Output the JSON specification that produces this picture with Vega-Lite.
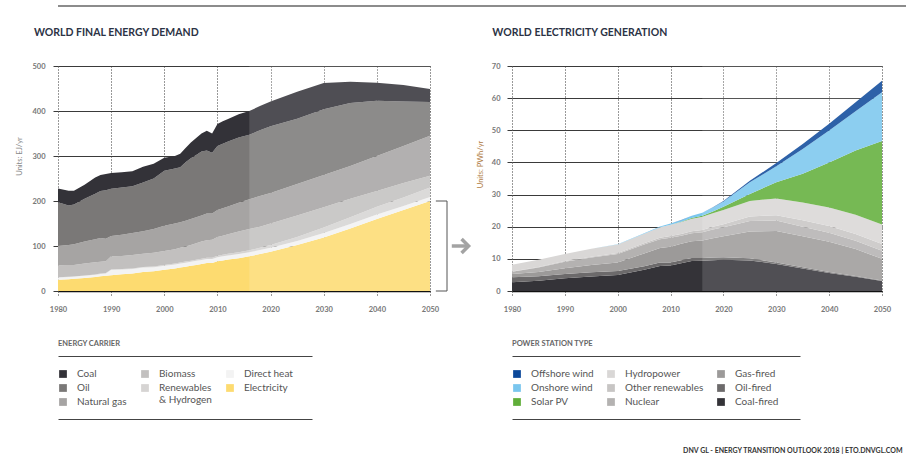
{
"$schema":"https://vega.github.io/schema/vega-lite/v6.json",
"background":"white",
"padding":{"left":15,"top":5,"right":0,"bottom":0},
"config":{"font":"Lato","view":{"stroke":null},"axis":{"labelFont":"Lato","titleFont":"Lato","zindex":1},"legend":{"labelFont":"Lato"},"title":{"font":"Lato"}},
"datasets":{
"energy":[
{"year":1980,"carrier":"Electricity","ej":25},{"year":1980,"carrier":"Direct heat","ej":5},{"year":1980,"carrier":"Renewables & Hydrogen","ej":0.5},{"year":1980,"carrier":"Biomass","ej":26.5},{"year":1980,"carrier":"Natural gas","ej":43},{"year":1980,"carrier":"Oil","ej":97},{"year":1980,"carrier":"Coal","ej":31},
{"year":1982,"carrier":"Electricity","ej":26},{"year":1982,"carrier":"Direct heat","ej":5},{"year":1982,"carrier":"Renewables & Hydrogen","ej":0.5},{"year":1982,"carrier":"Biomass","ej":26.5},{"year":1982,"carrier":"Natural gas","ej":44},{"year":1982,"carrier":"Oil","ej":88},{"year":1982,"carrier":"Coal","ej":33},
{"year":1983,"carrier":"Electricity","ej":27},{"year":1983,"carrier":"Direct heat","ej":5},{"year":1983,"carrier":"Renewables & Hydrogen","ej":0.5},{"year":1983,"carrier":"Biomass","ej":25.5},{"year":1983,"carrier":"Natural gas","ej":46},{"year":1983,"carrier":"Oil","ej":88},{"year":1983,"carrier":"Coal","ej":31},
{"year":1985,"carrier":"Electricity","ej":29},{"year":1985,"carrier":"Direct heat","ej":5},{"year":1985,"carrier":"Renewables & Hydrogen","ej":0.6},{"year":1985,"carrier":"Biomass","ej":26.4},{"year":1985,"carrier":"Natural gas","ej":49},{"year":1985,"carrier":"Oil","ej":95},{"year":1985,"carrier":"Coal","ej":31},
{"year":1987,"carrier":"Electricity","ej":31},{"year":1987,"carrier":"Direct heat","ej":5},{"year":1987,"carrier":"Renewables & Hydrogen","ej":0.7},{"year":1987,"carrier":"Biomass","ej":27.3},{"year":1987,"carrier":"Natural gas","ej":51},{"year":1987,"carrier":"Oil","ej":101},{"year":1987,"carrier":"Coal","ej":36},
{"year":1988,"carrier":"Electricity","ej":33},{"year":1988,"carrier":"Direct heat","ej":5},{"year":1988,"carrier":"Renewables & Hydrogen","ej":0.8},{"year":1988,"carrier":"Biomass","ej":26.2},{"year":1988,"carrier":"Natural gas","ej":53},{"year":1988,"carrier":"Oil","ej":104},{"year":1988,"carrier":"Coal","ej":36},
{"year":1989,"carrier":"Electricity","ej":34},{"year":1989,"carrier":"Direct heat","ej":5},{"year":1989,"carrier":"Renewables & Hydrogen","ej":0.8},{"year":1989,"carrier":"Biomass","ej":26.2},{"year":1989,"carrier":"Natural gas","ej":50},{"year":1989,"carrier":"Oil","ej":108},{"year":1989,"carrier":"Coal","ej":36},
{"year":1990,"carrier":"Electricity","ej":35},{"year":1990,"carrier":"Direct heat","ej":12},{"year":1990,"carrier":"Renewables & Hydrogen","ej":1},{"year":1990,"carrier":"Biomass","ej":29},{"year":1990,"carrier":"Natural gas","ej":45},{"year":1990,"carrier":"Oil","ej":105},{"year":1990,"carrier":"Coal","ej":35},
{"year":1992,"carrier":"Electricity","ej":37},{"year":1992,"carrier":"Direct heat","ej":11},{"year":1992,"carrier":"Renewables & Hydrogen","ej":1},{"year":1992,"carrier":"Biomass","ej":29},{"year":1992,"carrier":"Natural gas","ej":47},{"year":1992,"carrier":"Oil","ej":105},{"year":1992,"carrier":"Coal","ej":34},
{"year":1994,"carrier":"Electricity","ej":39},{"year":1994,"carrier":"Direct heat","ej":10},{"year":1994,"carrier":"Renewables & Hydrogen","ej":1.2},{"year":1994,"carrier":"Biomass","ej":29.8},{"year":1994,"carrier":"Natural gas","ej":49},{"year":1994,"carrier":"Oil","ej":104},{"year":1994,"carrier":"Coal","ej":33},
{"year":1996,"carrier":"Electricity","ej":42},{"year":1996,"carrier":"Direct heat","ej":10},{"year":1996,"carrier":"Renewables & Hydrogen","ej":1.4},{"year":1996,"carrier":"Biomass","ej":29.6},{"year":1996,"carrier":"Natural gas","ej":50},{"year":1996,"carrier":"Oil","ej":108},{"year":1996,"carrier":"Coal","ej":35},
{"year":1998,"carrier":"Electricity","ej":44},{"year":1998,"carrier":"Direct heat","ej":9},{"year":1998,"carrier":"Renewables & Hydrogen","ej":1.6},{"year":1998,"carrier":"Biomass","ej":30.4},{"year":1998,"carrier":"Natural gas","ej":53},{"year":1998,"carrier":"Oil","ej":112},{"year":1998,"carrier":"Coal","ej":33},
{"year":2000,"carrier":"Electricity","ej":47},{"year":2000,"carrier":"Direct heat","ej":9},{"year":2000,"carrier":"Renewables & Hydrogen","ej":2},{"year":2000,"carrier":"Biomass","ej":31},{"year":2000,"carrier":"Natural gas","ej":56},{"year":2000,"carrier":"Oil","ej":122},{"year":2000,"carrier":"Coal","ej":29},
{"year":2002,"carrier":"Electricity","ej":50},{"year":2002,"carrier":"Direct heat","ej":9},{"year":2002,"carrier":"Renewables & Hydrogen","ej":2.2},{"year":2002,"carrier":"Biomass","ej":31.8},{"year":2002,"carrier":"Natural gas","ej":57},{"year":2002,"carrier":"Oil","ej":122},{"year":2002,"carrier":"Coal","ej":28},
{"year":2003,"carrier":"Electricity","ej":52},{"year":2003,"carrier":"Direct heat","ej":9},{"year":2003,"carrier":"Renewables & Hydrogen","ej":2.3},{"year":2003,"carrier":"Biomass","ej":32.7},{"year":2003,"carrier":"Natural gas","ej":57},{"year":2003,"carrier":"Oil","ej":122},{"year":2003,"carrier":"Coal","ej":30},
{"year":2004,"carrier":"Electricity","ej":54},{"year":2004,"carrier":"Direct heat","ej":9},{"year":2004,"carrier":"Renewables & Hydrogen","ej":2.4},{"year":2004,"carrier":"Biomass","ej":33.6},{"year":2004,"carrier":"Natural gas","ej":57},{"year":2004,"carrier":"Oil","ej":130},{"year":2004,"carrier":"Coal","ej":32},
{"year":2005,"carrier":"Electricity","ej":56},{"year":2005,"carrier":"Direct heat","ej":9},{"year":2005,"carrier":"Renewables & Hydrogen","ej":2.5},{"year":2005,"carrier":"Biomass","ej":34.5},{"year":2005,"carrier":"Natural gas","ej":58},{"year":2005,"carrier":"Oil","ej":135},{"year":2005,"carrier":"Coal","ej":35},
{"year":2006,"carrier":"Electricity","ej":58},{"year":2006,"carrier":"Direct heat","ej":9},{"year":2006,"carrier":"Renewables & Hydrogen","ej":2.7},{"year":2006,"carrier":"Biomass","ej":36.3},{"year":2006,"carrier":"Natural gas","ej":58},{"year":2006,"carrier":"Oil","ej":138},{"year":2006,"carrier":"Coal","ej":38},
{"year":2007,"carrier":"Electricity","ej":60},{"year":2007,"carrier":"Direct heat","ej":9},{"year":2007,"carrier":"Renewables & Hydrogen","ej":2.9},{"year":2007,"carrier":"Biomass","ej":38.1},{"year":2007,"carrier":"Natural gas","ej":58},{"year":2007,"carrier":"Oil","ej":142},{"year":2007,"carrier":"Coal","ej":40},
{"year":2008,"carrier":"Electricity","ej":62},{"year":2008,"carrier":"Direct heat","ej":9},{"year":2008,"carrier":"Renewables & Hydrogen","ej":3},{"year":2008,"carrier":"Biomass","ej":39},{"year":2008,"carrier":"Natural gas","ej":59},{"year":2008,"carrier":"Oil","ej":140},{"year":2008,"carrier":"Coal","ej":44},
{"year":2009,"carrier":"Electricity","ej":62},{"year":2009,"carrier":"Direct heat","ej":9},{"year":2009,"carrier":"Renewables & Hydrogen","ej":3.1},{"year":2009,"carrier":"Biomass","ej":39.9},{"year":2009,"carrier":"Natural gas","ej":58},{"year":2009,"carrier":"Oil","ej":135},{"year":2009,"carrier":"Coal","ej":43},
{"year":2010,"carrier":"Electricity","ej":66},{"year":2010,"carrier":"Direct heat","ej":9},{"year":2010,"carrier":"Renewables & Hydrogen","ej":3.3},{"year":2010,"carrier":"Biomass","ej":41.7},{"year":2010,"carrier":"Natural gas","ej":60},{"year":2010,"carrier":"Oil","ej":142},{"year":2010,"carrier":"Coal","ej":49},
{"year":2011,"carrier":"Electricity","ej":68},{"year":2011,"carrier":"Direct heat","ej":9},{"year":2011,"carrier":"Renewables & Hydrogen","ej":3.5},{"year":2011,"carrier":"Biomass","ej":42.5},{"year":2011,"carrier":"Natural gas","ej":61},{"year":2011,"carrier":"Oil","ej":143},{"year":2011,"carrier":"Coal","ej":50},
{"year":2012,"carrier":"Electricity","ej":70},{"year":2012,"carrier":"Direct heat","ej":9},{"year":2012,"carrier":"Renewables & Hydrogen","ej":3.7},{"year":2012,"carrier":"Biomass","ej":43.3},{"year":2012,"carrier":"Natural gas","ej":62},{"year":2012,"carrier":"Oil","ej":144},{"year":2012,"carrier":"Coal","ej":50},
{"year":2014,"carrier":"Electricity","ej":73},{"year":2014,"carrier":"Direct heat","ej":9},{"year":2014,"carrier":"Renewables & Hydrogen","ej":4},{"year":2014,"carrier":"Biomass","ej":46},{"year":2014,"carrier":"Natural gas","ej":64},{"year":2014,"carrier":"Oil","ej":145},{"year":2014,"carrier":"Coal","ej":52},
{"year":2016,"carrier":"Electricity","ej":77},{"year":2016,"carrier":"Direct heat","ej":9},{"year":2016,"carrier":"Renewables & Hydrogen","ej":4.5},{"year":2016,"carrier":"Biomass","ej":47.5},{"year":2016,"carrier":"Natural gas","ej":66},{"year":2016,"carrier":"Oil","ej":143},{"year":2016,"carrier":"Coal","ej":53},
{"year":2018,"carrier":"Electricity","ej":82},{"year":2018,"carrier":"Direct heat","ej":9},{"year":2018,"carrier":"Renewables & Hydrogen","ej":5},{"year":2018,"carrier":"Biomass","ej":47},{"year":2018,"carrier":"Natural gas","ej":68},{"year":2018,"carrier":"Oil","ej":146},{"year":2018,"carrier":"Coal","ej":54},
{"year":2020,"carrier":"Electricity","ej":87},{"year":2020,"carrier":"Direct heat","ej":9},{"year":2020,"carrier":"Renewables & Hydrogen","ej":6},{"year":2020,"carrier":"Biomass","ej":48},{"year":2020,"carrier":"Natural gas","ej":68},{"year":2020,"carrier":"Oil","ej":148},{"year":2020,"carrier":"Coal","ej":55},
{"year":2025,"carrier":"Electricity","ej":102},{"year":2025,"carrier":"Direct heat","ej":9},{"year":2025,"carrier":"Renewables & Hydrogen","ej":9},{"year":2025,"carrier":"Biomass","ej":48},{"year":2025,"carrier":"Natural gas","ej":70},{"year":2025,"carrier":"Oil","ej":145},{"year":2025,"carrier":"Coal","ej":60},
{"year":2030,"carrier":"Electricity","ej":119},{"year":2030,"carrier":"Direct heat","ej":10},{"year":2030,"carrier":"Renewables & Hydrogen","ej":12},{"year":2030,"carrier":"Biomass","ej":45},{"year":2030,"carrier":"Natural gas","ej":72},{"year":2030,"carrier":"Oil","ej":146},{"year":2030,"carrier":"Coal","ej":58},
{"year":2035,"carrier":"Electricity","ej":139},{"year":2035,"carrier":"Direct heat","ej":10},{"year":2035,"carrier":"Renewables & Hydrogen","ej":15},{"year":2035,"carrier":"Biomass","ej":41},{"year":2035,"carrier":"Natural gas","ej":73},{"year":2035,"carrier":"Oil","ej":140},{"year":2035,"carrier":"Coal","ej":47},
{"year":2040,"carrier":"Electricity","ej":160},{"year":2040,"carrier":"Direct heat","ej":10},{"year":2040,"carrier":"Renewables & Hydrogen","ej":17},{"year":2040,"carrier":"Biomass","ej":35},{"year":2040,"carrier":"Natural gas","ej":78},{"year":2040,"carrier":"Oil","ej":123},{"year":2040,"carrier":"Coal","ej":40},
{"year":2045,"carrier":"Electricity","ej":180},{"year":2045,"carrier":"Direct heat","ej":9},{"year":2045,"carrier":"Renewables & Hydrogen","ej":19},{"year":2045,"carrier":"Biomass","ej":32},{"year":2045,"carrier":"Natural gas","ej":82},{"year":2045,"carrier":"Oil","ej":99},{"year":2045,"carrier":"Coal","ej":37},
{"year":2050,"carrier":"Electricity","ej":200},{"year":2050,"carrier":"Direct heat","ej":9},{"year":2050,"carrier":"Renewables & Hydrogen","ej":21},{"year":2050,"carrier":"Biomass","ej":26},{"year":2050,"carrier":"Natural gas","ej":89},{"year":2050,"carrier":"Oil","ej":75},{"year":2050,"carrier":"Coal","ej":29}
],
"power":[
{"year":1980,"type":"Coal-fired","pwh":2.7},{"year":1980,"type":"Oil-fired","pwh":1.6},{"year":1980,"type":"Gas-fired","pwh":1.0},{"year":1980,"type":"Nuclear","pwh":0.7},{"year":1980,"type":"Other renewables","pwh":0.1},{"year":1980,"type":"Hydropower","pwh":2.1},{"year":1980,"type":"Solar PV","pwh":0},{"year":1980,"type":"Onshore wind","pwh":0},{"year":1980,"type":"Offshore wind","pwh":0},
{"year":1985,"type":"Coal-fired","pwh":3.2},{"year":1985,"type":"Oil-fired","pwh":1.4},{"year":1985,"type":"Gas-fired","pwh":1.3},{"year":1985,"type":"Nuclear","pwh":1.4},{"year":1985,"type":"Other renewables","pwh":0.15},{"year":1985,"type":"Hydropower","pwh":2.3},{"year":1985,"type":"Solar PV","pwh":0},{"year":1985,"type":"Onshore wind","pwh":0},{"year":1985,"type":"Offshore wind","pwh":0},
{"year":1990,"type":"Coal-fired","pwh":4.0},{"year":1990,"type":"Oil-fired","pwh":1.3},{"year":1990,"type":"Gas-fired","pwh":1.8},{"year":1990,"type":"Nuclear","pwh":2.0},{"year":1990,"type":"Other renewables","pwh":0.2},{"year":1990,"type":"Hydropower","pwh":2.2},{"year":1990,"type":"Solar PV","pwh":0},{"year":1990,"type":"Onshore wind","pwh":0.004},{"year":1990,"type":"Offshore wind","pwh":0},
{"year":1995,"type":"Coal-fired","pwh":4.5},{"year":1995,"type":"Oil-fired","pwh":1.3},{"year":1995,"type":"Gas-fired","pwh":2.3},{"year":1995,"type":"Nuclear","pwh":2.3},{"year":1995,"type":"Other renewables","pwh":0.25},{"year":1995,"type":"Hydropower","pwh":2.5},{"year":1995,"type":"Solar PV","pwh":0},{"year":1995,"type":"Onshore wind","pwh":0.01},{"year":1995,"type":"Offshore wind","pwh":0},
{"year":2000,"type":"Coal-fired","pwh":5.0},{"year":2000,"type":"Oil-fired","pwh":1.2},{"year":2000,"type":"Gas-fired","pwh":2.7},{"year":2000,"type":"Nuclear","pwh":2.6},{"year":2000,"type":"Other renewables","pwh":0.3},{"year":2000,"type":"Hydropower","pwh":2.7},{"year":2000,"type":"Solar PV","pwh":0},{"year":2000,"type":"Onshore wind","pwh":0.03},{"year":2000,"type":"Offshore wind","pwh":0},
{"year":2005,"type":"Coal-fired","pwh":6.6},{"year":2005,"type":"Oil-fired","pwh":1.1},{"year":2005,"type":"Gas-fired","pwh":4.0},{"year":2005,"type":"Nuclear","pwh":2.8},{"year":2005,"type":"Other renewables","pwh":0.35},{"year":2005,"type":"Hydropower","pwh":3.0},{"year":2005,"type":"Solar PV","pwh":0},{"year":2005,"type":"Onshore wind","pwh":0.1},{"year":2005,"type":"Offshore wind","pwh":0},
{"year":2008,"type":"Coal-fired","pwh":7.8},{"year":2008,"type":"Oil-fired","pwh":1.1},{"year":2008,"type":"Gas-fired","pwh":4.5},{"year":2008,"type":"Nuclear","pwh":2.7},{"year":2008,"type":"Other renewables","pwh":0.45},{"year":2008,"type":"Hydropower","pwh":3.3},{"year":2008,"type":"Solar PV","pwh":0.01},{"year":2008,"type":"Onshore wind","pwh":0.2},{"year":2008,"type":"Offshore wind","pwh":0.003},
{"year":2010,"type":"Coal-fired","pwh":7.9},{"year":2010,"type":"Oil-fired","pwh":1.0},{"year":2010,"type":"Gas-fired","pwh":4.9},{"year":2010,"type":"Nuclear","pwh":2.8},{"year":2010,"type":"Other renewables","pwh":0.5},{"year":2010,"type":"Hydropower","pwh":3.5},{"year":2010,"type":"Solar PV","pwh":0.03},{"year":2010,"type":"Onshore wind","pwh":0.34},{"year":2010,"type":"Offshore wind","pwh":0.01},
{"year":2012,"type":"Coal-fired","pwh":8.6},{"year":2012,"type":"Oil-fired","pwh":1.0},{"year":2012,"type":"Gas-fired","pwh":5.1},{"year":2012,"type":"Nuclear","pwh":2.5},{"year":2012,"type":"Other renewables","pwh":0.55},{"year":2012,"type":"Hydropower","pwh":3.7},{"year":2012,"type":"Solar PV","pwh":0.1},{"year":2012,"type":"Onshore wind","pwh":0.5},{"year":2012,"type":"Offshore wind","pwh":0.02},
{"year":2014,"type":"Coal-fired","pwh":9.3},{"year":2014,"type":"Oil-fired","pwh":0.95},{"year":2014,"type":"Gas-fired","pwh":5.2},{"year":2014,"type":"Nuclear","pwh":2.5},{"year":2014,"type":"Other renewables","pwh":0.65},{"year":2014,"type":"Hydropower","pwh":3.9},{"year":2014,"type":"Solar PV","pwh":0.2},{"year":2014,"type":"Onshore wind","pwh":0.7},{"year":2014,"type":"Offshore wind","pwh":0.03},
{"year":2016,"type":"Coal-fired","pwh":9.4},{"year":2016,"type":"Oil-fired","pwh":0.9},{"year":2016,"type":"Gas-fired","pwh":5.4},{"year":2016,"type":"Nuclear","pwh":2.6},{"year":2016,"type":"Other renewables","pwh":0.7},{"year":2016,"type":"Hydropower","pwh":4.1},{"year":2016,"type":"Solar PV","pwh":0.3},{"year":2016,"type":"Onshore wind","pwh":0.93},{"year":2016,"type":"Offshore wind","pwh":0.05},
{"year":2018,"type":"Coal-fired","pwh":9.6},{"year":2018,"type":"Oil-fired","pwh":0.85},{"year":2018,"type":"Gas-fired","pwh":6.0},{"year":2018,"type":"Nuclear","pwh":2.7},{"year":2018,"type":"Other renewables","pwh":0.85},{"year":2018,"type":"Hydropower","pwh":4.2},{"year":2018,"type":"Solar PV","pwh":0.55},{"year":2018,"type":"Onshore wind","pwh":1.2},{"year":2018,"type":"Offshore wind","pwh":0.08},
{"year":2020,"type":"Coal-fired","pwh":9.7},{"year":2020,"type":"Oil-fired","pwh":0.8},{"year":2020,"type":"Gas-fired","pwh":6.5},{"year":2020,"type":"Nuclear","pwh":2.8},{"year":2020,"type":"Other renewables","pwh":1.0},{"year":2020,"type":"Hydropower","pwh":4.4},{"year":2020,"type":"Solar PV","pwh":1.0},{"year":2020,"type":"Onshore wind","pwh":1.65},{"year":2020,"type":"Offshore wind","pwh":0.15},
{"year":2025,"type":"Coal-fired","pwh":9.5},{"year":2025,"type":"Oil-fired","pwh":0.7},{"year":2025,"type":"Gas-fired","pwh":8.3},{"year":2025,"type":"Nuclear","pwh":3.3},{"year":2025,"type":"Other renewables","pwh":1.4},{"year":2025,"type":"Hydropower","pwh":4.8},{"year":2025,"type":"Solar PV","pwh":2.2},{"year":2025,"type":"Onshore wind","pwh":3.6},{"year":2025,"type":"Offshore wind","pwh":0.5},
{"year":2030,"type":"Coal-fired","pwh":8.4},{"year":2030,"type":"Oil-fired","pwh":0.5},{"year":2030,"type":"Gas-fired","pwh":9.8},{"year":2030,"type":"Nuclear","pwh":3.2},{"year":2030,"type":"Other renewables","pwh":1.7},{"year":2030,"type":"Hydropower","pwh":5.2},{"year":2030,"type":"Solar PV","pwh":5.0},{"year":2030,"type":"Onshore wind","pwh":5.0},{"year":2030,"type":"Offshore wind","pwh":1.0},
{"year":2035,"type":"Coal-fired","pwh":7.0},{"year":2035,"type":"Oil-fired","pwh":0.4},{"year":2035,"type":"Gas-fired","pwh":9.6},{"year":2035,"type":"Nuclear","pwh":3.0},{"year":2035,"type":"Other renewables","pwh":2.0},{"year":2035,"type":"Hydropower","pwh":5.5},{"year":2035,"type":"Solar PV","pwh":9.0},{"year":2035,"type":"Onshore wind","pwh":7.7},{"year":2035,"type":"Offshore wind","pwh":1.5},
{"year":2040,"type":"Coal-fired","pwh":5.6},{"year":2040,"type":"Oil-fired","pwh":0.3},{"year":2040,"type":"Gas-fired","pwh":9.4},{"year":2040,"type":"Nuclear","pwh":2.8},{"year":2040,"type":"Other renewables","pwh":2.1},{"year":2040,"type":"Hydropower","pwh":5.8},{"year":2040,"type":"Solar PV","pwh":14.0},{"year":2040,"type":"Onshore wind","pwh":9.9},{"year":2040,"type":"Offshore wind","pwh":2.1},
{"year":2045,"type":"Coal-fired","pwh":4.4},{"year":2045,"type":"Oil-fired","pwh":0.25},{"year":2045,"type":"Gas-fired","pwh":8.4},{"year":2045,"type":"Nuclear","pwh":2.6},{"year":2045,"type":"Other renewables","pwh":2.1},{"year":2045,"type":"Hydropower","pwh":6.0},{"year":2045,"type":"Solar PV","pwh":20.0},{"year":2045,"type":"Onshore wind","pwh":12.15},{"year":2045,"type":"Offshore wind","pwh":2.8},
{"year":2050,"type":"Coal-fired","pwh":3.1},{"year":2050,"type":"Oil-fired","pwh":0.2},{"year":2050,"type":"Gas-fired","pwh":6.7},{"year":2050,"type":"Nuclear","pwh":2.5},{"year":2050,"type":"Other renewables","pwh":2.1},{"year":2050,"type":"Hydropower","pwh":6.1},{"year":2050,"type":"Solar PV","pwh":26.0},{"year":2050,"type":"Onshore wind","pwh":15.1},{"year":2050,"type":"Offshore wind","pwh":3.6}
]
},
"title":{"text":"DNV GL - ENERGY TRANSITION OUTLOOK 2018    |    ETO.DNVGL.COM","orient":"bottom","anchor":"end","fontSize":7,"fontWeight":"bold","color":"#333","offset":27,"dx":-8},
"columns":1,
"align":"none",
"spacing":20,
"resolve":{"scale":{"color":"independent"},"legend":{"color":"independent"}},
"concat":[
{
"width":852,"height":1,
"data":{"values":[{}]},
"mark":{"type":"rule","color":"#1a1a1a","strokeWidth":1.2},
"encoding":{"y":{"datum":1,"type":"quantitative","scale":{"domain":[0,1]},"axis":{"title":"\u00a0","titleFontSize":10,"titlePadding":9,"labels":false,"ticks":false,"domain":false,"grid":false}}}
},
{
"hconcat":[
{
"vconcat":[
{
"width":372,"height":225,
"title":{"text":"WORLD FINAL ENERGY DEMAND","anchor":"start","dx":18,"offset":24,"fontSize":10.5,"fontWeight":"bold","color":"#2c3345"},
"resolve":{"axis":{"x":"independent","y":"independent"}},
"layer":[
{
"data":{"name":"energy"},
"transform":[{"calculate":"indexof(['Electricity','Direct heat','Renewables & Hydrogen','Biomass','Natural gas','Oil','Coal'], datum.carrier)","as":"stackorder"}],
"mark":{"type":"area","interpolate":"linear"},
"encoding":{
"x":{"field":"year","type":"quantitative","scale":{"domain":[1980,2050],"nice":false,"zero":false},
"axis":{"values":[1980,1990,2000,2010,2020,2030,2040,2050],"format":"d","title":null,"grid":true,"gridDash":[1,2],"gridColor":"#333","gridWidth":1,"domain":true,"domainColor":"#111","domainWidth":1.5,"ticks":true,"tickSize":4,"tickDash":[1,2],"tickColor":"#333","labelPadding":10,"labelFlush":false,"labelFontSize":7.5,"labelFontWeight":"bold","labelColor":"#777"}},
"y":{"field":"ej","type":"quantitative","stack":"zero","scale":{"domain":[0,500],"nice":false},
"axis":{"values":[0,100,200,300,400,500],"title":"Units: EJ/yr","titleFontSize":7.5,"titleColor":"#888","titleFontWeight":"normal","titlePadding":8,"titleY":90,"grid":true,"gridColor":"#3a3a3a","gridWidth":1,"domain":false,"ticks":true,"tickSize":5,"tickColor":"#3a3a3a","labelPadding":8,"labelFontSize":7.5,"labelFontWeight":"bold","labelColor":"#777"}},
"color":{"field":"carrier","type":"nominal","scale":{"domain":["Coal","Oil","Natural gas","Biomass","Renewables & Hydrogen","Direct heat","Electricity"],"range":["#333238","#7a7877","#a6a4a3","#c2c0bf","#d6d4d3","#f3f3f3","#fddb70"]},"legend":null},
"order":{"field":"stackorder","type":"quantitative"}
}
},
{"data":{"values":[{}]},"mark":{"type":"rect","fill":"white","opacity":0.14},"encoding":{"x":{"datum":2016,"axis":null},"x2":{"datum":2050},"y":{"datum":0,"axis":null},"y2":{"datum":500}}},
{"data":{"values":[{}]},"mark":{"type":"rule","color":"#555","strokeWidth":1},"encoding":{"x":{"datum":2051.1,"axis":null},"x2":{"datum":2053.2},"y":{"datum":200,"axis":null}}},
{"data":{"values":[{}]},"mark":{"type":"rule","color":"#555","strokeWidth":1},"encoding":{"x":{"datum":2051.1,"axis":null},"x2":{"datum":2053.2},"y":{"datum":0,"axis":null}}},
{"data":{"values":[{}]},"mark":{"type":"rule","color":"#555","strokeWidth":1},"encoding":{"x":{"datum":2053.2,"axis":null},"y":{"datum":0,"axis":null},"y2":{"datum":200}}},
{"data":{"values":[{}]},"mark":{"type":"rule","color":"#a3a3a3","strokeWidth":3.5},"encoding":{"x":{"datum":2054.1,"axis":null},"x2":{"datum":2057.3},"y":{"datum":100,"axis":null}}},
{"data":{"values":[{}]},"mark":{"type":"point","shape":"M-0.5,-1L0.5,0L-0.5,1","filled":false,"stroke":"#a3a3a3","strokeWidth":3.5,"size":196,"opacity":1},"encoding":{"x":{"datum":2056.6,"axis":null},"y":{"datum":100,"axis":null}}}
]
},
{
"width":254,"height":63,
"view":{"stroke":"#444","strokeWidth":1,"strokeDash":[254,63]},
"title":{"text":"ENERGY CARRIER","anchor":"start","fontSize":7.5,"fontWeight":"bold","color":"#666","offset":9},
"resolve":{"scale":{"color":"independent"},"legend":{"color":"independent"}},
"layer":[
{
"data":{"name":"energy"},
"transform":[{"filter":{"field":"carrier","oneOf":["Coal","Oil","Natural gas"]}}],
"mark":{"type":"square","opacity":0},
"encoding":{"color":{"field":"carrier","type":"nominal","scale":{"domain":["Coal","Oil","Natural gas"],"range":["#333238","#7a7877","#a6a4a3"]},
"legend":{"orient":"none","legendX":0,"legendY":13,"columns":1,"title":null,"padding":0,"symbolType":"square","symbolSize":60,"symbolOpacity":1,"symbolStrokeWidth":0,"labelFontSize":10,"labelColor":"#555","labelOffset":9,"rowPadding":4}}}
},
{
"data":{"name":"energy"},
"transform":[{"filter":{"field":"carrier","oneOf":["Biomass","Renewables & Hydrogen","Direct heat","Electricity"]}}],
"mark":{"type":"square","opacity":0},
"encoding":{"color":{"field":"carrier","type":"nominal","scale":{"domain":["Biomass","Renewables & Hydrogen","Direct heat","Electricity"],"range":["#c2c0bf","#d6d4d3","#f3f3f3","#fddb70"]},
"legend":{"orient":"none","legendX":82,"legendY":13,"columns":2,"title":null,"padding":0,"symbolType":"square","symbolSize":60,"symbolOpacity":1,"symbolStrokeWidth":0,"labelFontSize":10,"labelColor":"#555","labelOffset":9,"columnPadding":13,"rowPadding":4,"labelExpr":"datum.label === 'Renewables & Hydrogen' ? ['Renewables', '& Hydrogen'] : datum.label"}}}
}
]
}
],
"spacing":65,
"bounds":"flush",
"resolve":{"scale":{"color":"independent"},"legend":{"color":"independent"}}
},
{
"vconcat":[
{
"width":370,"height":225,
"title":{"text":"WORLD ELECTRICITY GENERATION","anchor":"start","dx":16,"offset":24,"fontSize":10.5,"fontWeight":"bold","color":"#2c3345"},
"resolve":{"axis":{"x":"independent","y":"independent"}},
"layer":[
{
"data":{"name":"power"},
"transform":[{"calculate":"indexof(['Coal-fired','Oil-fired','Gas-fired','Nuclear','Other renewables','Hydropower','Solar PV','Onshore wind','Offshore wind'], datum.type)","as":"stackorder"}],
"mark":{"type":"area","interpolate":"linear"},
"encoding":{
"x":{"field":"year","type":"quantitative","scale":{"domain":[1980,2050],"nice":false,"zero":false},
"axis":{"values":[1980,1990,2000,2010,2020,2030,2040,2050],"format":"d","title":null,"grid":true,"gridDash":[1,2],"gridColor":"#333","gridWidth":1,"domain":true,"domainColor":"#111","domainWidth":1.5,"ticks":true,"tickSize":4,"tickDash":[1,2],"tickColor":"#333","labelPadding":10,"labelFlush":false,"labelFontSize":7.5,"labelFontWeight":"bold","labelColor":"#777"}},
"y":{"field":"pwh","type":"quantitative","stack":"zero","scale":{"domain":[0,70],"nice":false},
"axis":{"values":[0,10,20,30,40,50,60,70],"title":"Units: PWh/yr","titleFontSize":7.5,"titleColor":"#b07d45","titleFontWeight":"normal","titlePadding":7,"titleY":98,"grid":true,"gridColor":"#3a3a3a","gridWidth":1,"domain":false,"ticks":true,"tickSize":5,"tickColor":"#3a3a3a","labelPadding":7,"labelFontSize":7.5,"labelFontWeight":"bold","labelColor":"#777"}},
"color":{"field":"type","type":"nominal","scale":{"domain":["Offshore wind","Onshore wind","Solar PV","Hydropower","Other renewables","Nuclear","Gas-fired","Oil-fired","Coal-fired"],"range":["#0b489a","#7ac6ee","#60ae39","#d9d7d6","#c7c5c4","#b4b2b1","#9c9a99","#6c6a6b","#343338"]},"legend":null},
"order":{"field":"stackorder","type":"quantitative"}
}
},
{"data":{"values":[{}]},"mark":{"type":"rect","fill":"white","opacity":0.14},"encoding":{"x":{"datum":2016,"axis":null},"x2":{"datum":2050},"y":{"datum":0,"axis":null},"y2":{"datum":70}}}
]
},
{
"width":288,"height":63,
"view":{"stroke":"#444","strokeWidth":1,"strokeDash":[288,63]},
"title":{"text":"POWER STATION TYPE","anchor":"start","fontSize":7.5,"fontWeight":"bold","color":"#666","offset":9},
"data":{"name":"power"},
"mark":{"type":"square","opacity":0},
"encoding":{"color":{"field":"type","type":"nominal","scale":{"domain":["Offshore wind","Onshore wind","Solar PV","Hydropower","Other renewables","Nuclear","Gas-fired","Oil-fired","Coal-fired"],"range":["#0b489a","#7ac6ee","#60ae39","#d9d7d6","#c7c5c4","#b4b2b1","#9c9a99","#6c6a6b","#343338"]},
"legend":{"orient":"none","legendX":0,"legendY":13,"columns":3,"title":null,"padding":0,"symbolType":"square","symbolSize":60,"symbolOpacity":1,"symbolStrokeWidth":0,"labelFontSize":10,"labelColor":"#555","labelOffset":9,"columnPadding":12,"rowPadding":4}}}
}
],
"spacing":65,
"bounds":"flush",
"resolve":{"scale":{"color":"independent"},"legend":{"color":"independent"}}
}
],
"spacing":0,
"resolve":{"scale":{"color":"independent"},"legend":{"color":"independent"}}
}
]
}
